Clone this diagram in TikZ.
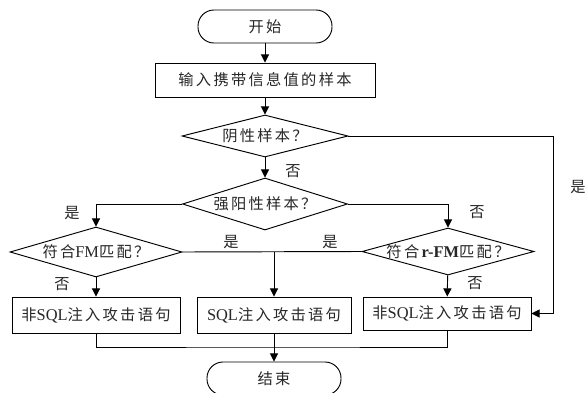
\documentclass[tikz,border=0pt]{standalone}
\usepackage{fontspec}
\setmainfont{Liberation Serif}
\newfontfamily\cjk[LetterSpace=15,Scale=0.93]{Noto Sans CJK SC}
\usepackage{tikz}
\usetikzlibrary{arrows.meta,shapes}

\begin{document}
\begin{tikzpicture}[x=0.03cm, y=-0.03cm, line width=0.8pt, >={Triangle[length=7pt,width=7pt]},
  every node/.style={font=\fontsize{14}{16}\selectfont, text=black!85},
  term/.style={draw, rounded corners=0.48cm, minimum width=4.02cm, minimum height=0.99cm},
  proc/.style={draw, inner sep=0pt, minimum height=1.08cm},
  cond/.style={draw, diamond, inner sep=0pt},
  lab/.style={font=\fontsize{14}{16}\cjk}]
\useasboundingbox (0,0) rectangle (585,393);
\node[term] (start) at (265,26.5) {\cjk 开始};
\node[proc, minimum width=6.6cm, minimum height=1.02cm] (input) at (265,80) {\cjk 输入携带信息值的样本};
\node[cond, minimum width=4.98cm, minimum height=1.26cm] (d1) at (265,136) {\makebox[0pt]{\cjk 阴性样本？}};
\node[cond, minimum width=4.95cm, minimum height=1.56cm] (d2) at (265,204) {\makebox[0pt]{\cjk 强阳性样本？}};
\node[cond, minimum width=5.16cm, minimum height=1.5cm] (d3) at (96,252) {\makebox[0pt]{{\cjk 符合}FM{\cjk 匹配？}}};
\node[cond, minimum width=5.16cm, minimum height=1.41cm] (d4) at (448,251.5) {\makebox[0pt]{{\cjk 符合}\textbf{r-FM}{\cjk 匹配？}}};
\node[proc, minimum width=5.04cm] (lbox) at (96,315) {{\cjk 非}SQL{\cjk 注入攻击语句}};
\node[proc, minimum width=4.62cm] (mbox) at (274,315) {SQL{\cjk 注入攻击语句}};
\node[proc, minimum width=5.04cm, minimum height=0.99cm] (rbox) at (447,313.5) {{\cjk 非}SQL{\cjk 注入攻击语句}};
\node[term] (end) at (274,378.5) {\cjk 结束};
\coordinate (rt) at (553,136);
\coordinate (join) at (274,347);

\draw[->] (start) -- (input);
\draw[->] (input) -- (d1);
\draw[->] (d1) -- (d2);
\draw[->] (d1.east) -- (rt) |- (rbox.east);
\draw[->] (d2.west) -| (d3.north);
\draw[->] (d2.east) -| (d4.north);
\draw (d3.east) -- (d4.west);
\draw[->] (mbox.north |- d3.east) -- (mbox);
\draw[->] (d3) -- (lbox);
\draw[->] (d4) -- (rbox);
\draw (lbox.south) |- (join) -| (rbox.south);
\draw[->] (mbox) -- (end);

\node[lab] (n1) at (293,171) {否};
\node[lab] (y1) at (578,187) {是};
\node[lab] (y2) at (72,213) {是};
\node[lab] (n2) at (477,212) {否};
\node[lab] (y3) at (231,242) {是};
\node[lab] (y4) at (330,242) {是};
\node[lab] (n3) at (62,284) {否};
\node[lab] (n4) at (475,283) {否};
\end{tikzpicture}
\end{document}
